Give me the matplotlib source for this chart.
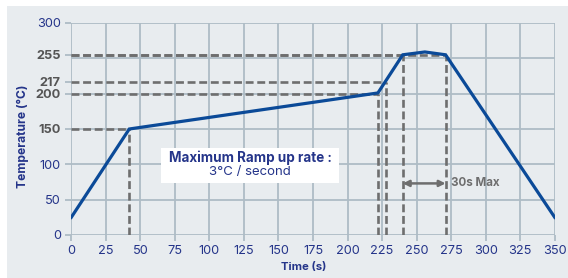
import numpy as np
import matplotlib.pyplot as plt
from matplotlib.patches import FancyBboxPatch

plt.rcParams['font.family'] = ['Inter', 'DejaVu Sans']

# profile points
time = [0, 42, 222, 240, 256, 271, 350]
temp = [25, 150, 201, 255, 259, 255, 25]

xticks = [0, 25, 50, 75, 100, 125, 150, 175, 200, 225, 250, 275, 300, 325, 350]
yticks = [0, 50, 100, 150, 200, 217, 255, 300]
marked = [150, 200, 217, 255]  # levels with grey labels

# dashed guide lines: (x end, y level)
guides = [(42, 150), (222, 200), (228, 217), (240, 255), (271, 255)]
window = (240, 271)

navy = '#25358a'
blue = '#0b4a98'
grey = '#6e6e6e'
gridc = '#aebcc5'
panel = '#e8ecef'

fig = plt.figure(figsize=(5.68, 2.78), dpi=100)
fig.patch.set_facecolor('white')
fig.patches.append(FancyBboxPatch((7 / 568, 0), 1, 1 - 6 / 278,
                                  boxstyle='square,pad=0', transform=fig.transFigure,
                                  facecolor=panel, edgecolor='none', zorder=-10))
ax = fig.add_axes([0.1255, 0.1547, 0.8511, 0.7626])
ax.set_facecolor(panel)

for x in range(0, 351, 25):
    ax.axvline(x, color=gridc, lw=1.3, zorder=1)
for y in range(0, 301, 50):
    ax.axhline(y, color=gridc, lw=1.3, zorder=1)

dash = dict(color=grey, lw=1.9, dashes=(3.0, 1.4), solid_capstyle='butt', zorder=2)
for gx, gy in guides:
    ax.plot([0, gx], [gy, gy], **dash)
    ax.plot([gx, gx], [0, gy], **dash)

ax.plot(time, temp, color=blue, lw=2.3, zorder=3, solid_joinstyle='miter')

ax.annotate('', xy=(window[0], 73), xytext=(window[1], 73),
            arrowprops=dict(arrowstyle='<|-|>', color=grey, lw=1.8,
                            mutation_scale=9, shrinkA=0, shrinkB=0), zorder=4)
ax.text(window[1] + 4, 73, '30s Max', color=grey, fontsize=8.3,
        fontweight='bold', va='center', ha='left')

ax.add_patch(plt.Rectangle((65, 74), 129, 49, facecolor='white',
                           edgecolor='none', zorder=4))
ax.text(129.5, 110, 'Maximum Ramp up rate :', color=navy, fontsize=9.7,
        fontweight='bold', ha='center', va='center', zorder=5)
ax.text(129.5, 88.5, '3°C / second', color=navy, fontsize=9.5,
        ha='center', va='center', zorder=5)

ax.set_xlim(0, 350)
ax.set_ylim(0, 300)
ax.set_xticks(xticks)
ax.set_yticks(yticks)
ax.tick_params(colors=gridc, labelcolor=navy, labelsize=9.2, length=4, width=1.3)
for lab, v in zip(ax.get_yticklabels(), yticks):
    if v in marked:
        lab.set_color('#555555')
        lab.set_fontweight('bold')
for s in ax.spines.values():
    s.set_visible(False)

fig.text(304 / 568, 1 - 267 / 278, 'Time (s)', color=navy, fontsize=8.2,
         fontweight='bold', ha='center', va='center')
fig.text(23 / 568, 1 - 136 / 278, 'Temperature (°C)', color=navy, fontsize=8.7,
         fontweight='bold', ha='center', va='center', rotation=90)

fig.savefig('out.png', dpi=100)
